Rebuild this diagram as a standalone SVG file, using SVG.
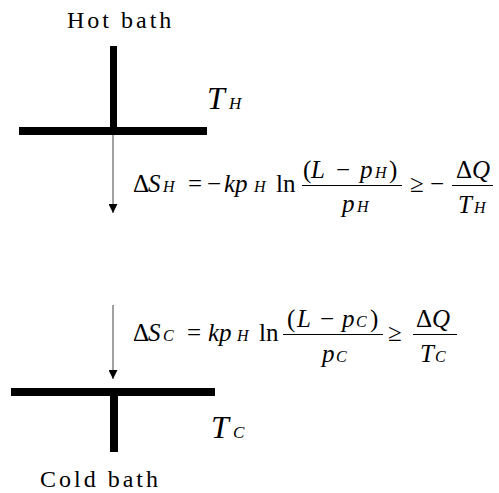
<svg xmlns="http://www.w3.org/2000/svg" width="499" height="493" viewBox="0 0 499 493">
<defs>
<style>
text{font-family:"Liberation Serif","Times New Roman","DejaVu Serif",serif;fill:#000}
.lbl{font-size:24px;letter-spacing:3px}
.eq{font-size:25px}
.i{font-style:italic}
.s{font-size:16px;font-style:italic}
.big{font-size:32px;font-style:italic}
.sub{font-size:17px;font-style:italic}
.bar{stroke:#000;stroke-width:1}
.conn{stroke:#444;stroke-width:1;fill:none}
</style>
<marker id="ah" viewBox="0 0 10 10" refX="10" refY="5" markerWidth="10" markerHeight="9" markerUnits="userSpaceOnUse" orient="auto">
<path d="M0,0 L10,5 L0,10 Z" fill="#000"/>
</marker>
</defs>
<rect width="499" height="493" fill="#fff"/>

<g id="hot-bath">
<text class="lbl" x="67" y="28">Hot bath</text>
<rect x="110" y="46" width="7" height="82" fill="#000"/>
<rect x="19" y="127" width="188" height="8" fill="#000"/>
<text y="109"><tspan class="big" x="207">T</tspan><tspan class="sub" x="229">H</tspan></text>
</g>

<g id="cold-bath">
<rect x="11" y="388" width="204" height="8" fill="#000"/>
<rect x="110" y="395" width="8" height="57" fill="#000"/>
<text y="438"><tspan class="big" x="211">T</tspan><tspan class="sub" x="233">C</tspan></text>
<text class="lbl" x="40" y="487">Cold bath</text>
</g>

<g id="connectors">
<line class="conn" x1="113" y1="135" x2="113" y2="213" marker-end="url(#ah)"/>
<line class="conn" x1="113" y1="305" x2="113" y2="379" marker-end="url(#ah)"/>
</g>

<g id="eq-hot" class="eq">
<text y="192"><tspan x="133">Δ</tspan><tspan class="i" x="148">S</tspan><tspan class="s" x="163">H</tspan><tspan x="188">=</tspan><tspan x="207">−</tspan><tspan class="i" x="224">kp</tspan><tspan class="s" x="254">H</tspan><tspan x="276">ln</tspan></text>
<line class="bar" x1="302" y1="185.5" x2="402" y2="185.5"/>
<text y="178"><tspan x="303">(</tspan><tspan class="i" x="311">L</tspan><tspan x="336">−</tspan><tspan class="i" x="360">p</tspan><tspan class="s" x="375">H</tspan><tspan x="389">)</tspan></text>
<text y="212"><tspan class="i" x="342">p</tspan><tspan class="s" x="357">H</tspan></text>
<text y="192"><tspan x="410">≥</tspan><tspan x="430">−</tspan></text>
<line class="bar" x1="452" y1="185.5" x2="493" y2="185.5"/>
<text y="178"><tspan x="456">Δ</tspan><tspan class="i" x="472">Q</tspan></text>
<text y="213"><tspan class="i" x="458">T</tspan><tspan class="s" x="474">H</tspan></text>
</g>

<g id="eq-cold" class="eq">
<text y="341"><tspan x="133">Δ</tspan><tspan class="i" x="148">S</tspan><tspan class="s" x="163">C</tspan><tspan x="187">=</tspan><tspan class="i" x="208">kp</tspan><tspan class="s" x="237">H</tspan><tspan x="259">ln</tspan></text>
<line class="bar" x1="283" y1="334.5" x2="383" y2="334.5"/>
<text y="327"><tspan x="287">(</tspan><tspan class="i" x="297">L</tspan><tspan x="320">−</tspan><tspan class="i" x="342">p</tspan><tspan class="s" x="356">C</tspan><tspan x="370">)</tspan></text>
<text y="362"><tspan class="i" x="322">p</tspan><tspan class="s" x="336">C</tspan></text>
<text y="341"><tspan x="388">≥</tspan></text>
<line class="bar" x1="413" y1="334.5" x2="457" y2="334.5"/>
<text y="327"><tspan x="416">Δ</tspan><tspan class="i" x="432">Q</tspan></text>
<text y="362"><tspan class="i" x="420">T</tspan><tspan class="s" x="435">C</tspan></text>
</g>
</svg>
